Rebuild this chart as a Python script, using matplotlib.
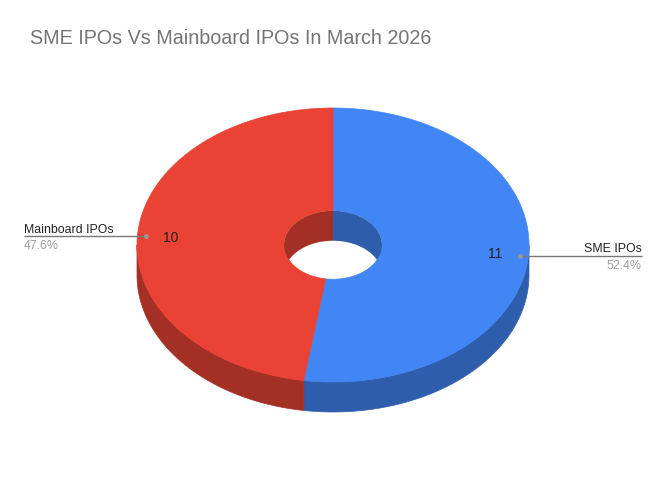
import numpy as np
import matplotlib
matplotlib.use("Agg")
import matplotlib.pyplot as plt
from matplotlib.patches import Polygon, Ellipse

categories = ["SME IPOs", "Mainboard IPOs"]
values = [11, 10]
colors = ["#4285F4", "#EA4335"]
side_colors = ["#2E5DAB", "#A42F25"]
title = "SME IPOs Vs Mainboard IPOs In March 2026"

plt.rcParams['font.family'] = ['Liberation Sans', 'DejaVu Sans']

fig = plt.figure(figsize=(6.66, 4.82), dpi=100)
ax = fig.add_axes([0, 0, 1, 1])
ax.set_xlim(0, 666)
ax.set_ylim(482, 0)
ax.axis('off')

cx, cy, a, b, depth, hole = 333, 245, 196, 137, 30, 0.25


def arc(t0, t1, r=1.0, dy=0.0, n=200):
    t = np.radians(np.linspace(t0, t1, n))
    return np.column_stack([cx + a * r * np.sin(t), cy - b * r * np.cos(t) + dy])


total = sum(values)
starts = np.concatenate([[0], np.cumsum(values)[:-1]]) / total * 360
ends = np.cumsum(values) / total * 360

# outer side walls (front half: 90..270)
for s, e, sc in zip(starts, ends, side_colors):
    lo, hi = max(s, 90), min(e, 270)
    if hi > lo:
        top = arc(lo, hi)
        bot = arc(hi, lo, dy=depth)
        ax.add_patch(Polygon(np.vstack([top, bot]), closed=True, fc=sc, ec=sc, lw=0.5))

# top faces
for s, e, c in zip(starts, ends, colors):
    outer = arc(s, e)
    inner = arc(e, s, r=hole)
    ax.add_patch(Polygon(np.vstack([outer, inner]), closed=True, fc=c, ec=c, lw=0.5))

# inner (back) wall of the hole
clip = Ellipse((cx, cy), 2 * a * hole, 2 * b * hole, transform=ax.transData)
for s, e, sc in zip(starts, ends, side_colors):
    for (lo_b, hi_b) in [(-90, 90), (270, 450)]:
        lo, hi = max(s, lo_b), min(e, hi_b)
        if hi > lo:
            top = arc(lo, hi, r=hole)
            bot = arc(hi, lo, r=hole, dy=depth)
            p = Polygon(np.vstack([top, bot]), closed=True, fc=sc, ec='none')
            ax.add_patch(p)
            p.set_clip_path(clip)

# labels
for s, e, v, cat in zip(starts, ends, values, categories):
    mid = (s + e) / 2
    t = np.radians(mid)
    nx, ny = cx + a * 0.83 * np.sin(t), cy - b * 0.83 * np.cos(t) + 1
    ax.text(nx, ny, str(v), ha='center', va='center', fontsize=10, color='#222222')
    dx, dy_ = cx + a * 0.955 * np.sin(t), cy - b * 0.955 * np.cos(t) + 1
    right = np.sin(t) > 0
    ex = 642 if right else 24
    ax.plot([dx, ex], [dy_, dy_], color='#777777', lw=1, solid_capstyle='butt')
    ax.plot([dx], [dy_], 'o', color='#999999', ms=3.5, mec='none')
    ha = 'right' if right else 'left'
    ax.text(ex, dy_ - 3.5, cat, ha=ha, va='baseline', fontsize=8.9, color='#222222')
    ax.text(ex, dy_ + 4, f"{v / total * 100:.1f}%", ha=ha, va='top', fontsize=8.9, color='#9E9E9E')

ax.text(30, 44, title, ha='left', va='baseline', fontsize=14.2, color='#757575')

fig.savefig('out.png', dpi=100)
